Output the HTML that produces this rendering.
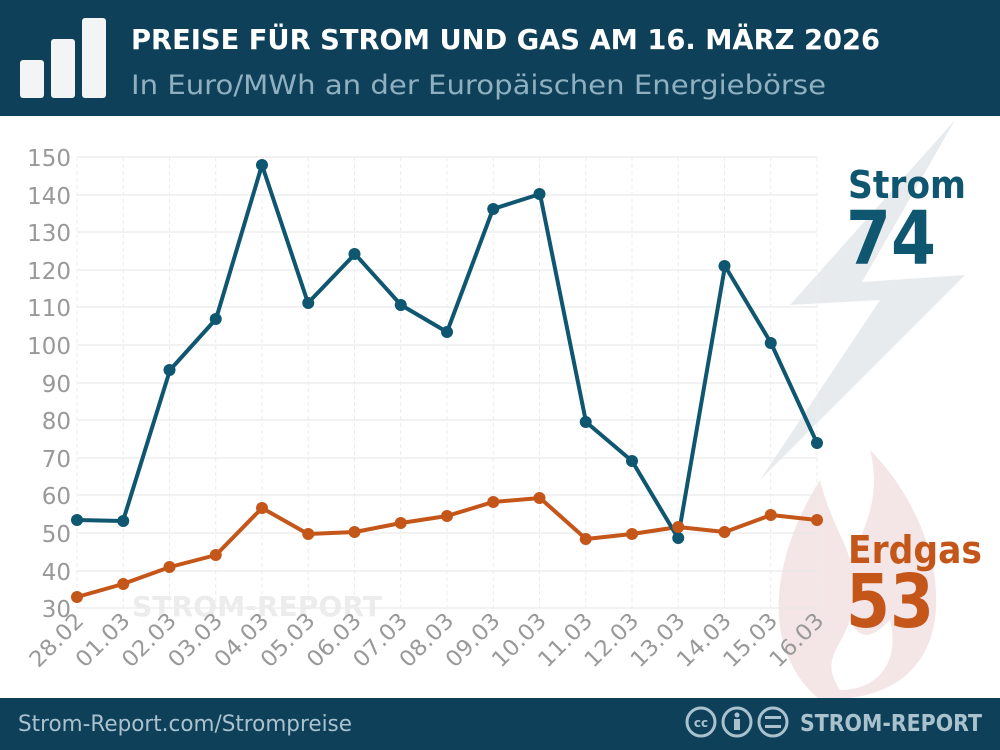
<!DOCTYPE html>
<html><head><meta charset="utf-8"><style>
body{margin:0;width:1000px;height:750px;overflow:hidden;background:#fff;font-family:"DejaVu Sans","Liberation Sans",sans-serif}
</style></head><body>
<svg width="1000" height="750" viewBox="0 0 1000 750" xmlns="http://www.w3.org/2000/svg" style="position:absolute;left:0;top:0">
<rect x="0" y="0" width="1000" height="116" fill="#0e4059"/>
<rect x="20" y="60" width="24" height="38" rx="3" fill="#f2f4f6"/>
<rect x="51" y="39" width="24" height="59" rx="3" fill="#f2f4f6"/>
<rect x="82" y="18" width="24" height="80" rx="3" fill="#f2f4f6"/>
<text x="131" y="49" font-size="28" font-weight="bold" fill="#fff" textLength="749" lengthAdjust="spacingAndGlyphs">PREISE FÜR STROM UND GAS AM 16. MÄRZ 2026</text>
<text x="131" y="94" font-size="27" fill="#8fb0c0" textLength="695" lengthAdjust="spacingAndGlyphs">In Euro/MWh an der Europäischen Energiebörse</text>
<polygon points="955,120 790,305 880,300 760,480 965,275 862,282" fill="#e8ebee"/>
<path d="M820,700 C760,650 770,560 820,480 C830,520 845,540 850,560 C870,520 880,490 870,450 C920,500 950,580 930,640 C915,680 880,700 820,700 Z M840,690 C880,690 900,660 890,620 C870,640 860,640 850,620 C840,650 820,660 840,690 Z" fill="#f4e6e7" fill-rule="evenodd"/>
<g stroke="#e6e6e6" stroke-width="1">
<line x1="77" y1="157" x2="817" y2="157"/><line x1="77" y1="195" x2="817" y2="195"/><line x1="77" y1="232" x2="817" y2="232"/><line x1="77" y1="270" x2="817" y2="270"/><line x1="77" y1="307" x2="817" y2="307"/><line x1="77" y1="345" x2="817" y2="345"/><line x1="77" y1="383" x2="817" y2="383"/><line x1="77" y1="420" x2="817" y2="420"/><line x1="77" y1="458" x2="817" y2="458"/><line x1="77" y1="495" x2="817" y2="495"/><line x1="77" y1="533" x2="817" y2="533"/><line x1="77" y1="571" x2="817" y2="571"/><line x1="77" y1="608" x2="817" y2="608"/>
</g>
<g stroke="#ececec" stroke-width="1" stroke-dasharray="4,3" id="vg"></g>
<text x="132" y="616" font-size="28" font-weight="bold" fill="#ececec" textLength="250" lengthAdjust="spacingAndGlyphs">STROM-REPORT</text>
<g font-size="23" fill="#999" text-anchor="end">
<text x="71" y="166">150</text><text x="71" y="204">140</text><text x="71" y="241">130</text><text x="71" y="279">120</text><text x="71" y="316">110</text><text x="71" y="354">100</text><text x="71" y="392">90</text><text x="71" y="429">80</text><text x="71" y="467">70</text><text x="71" y="504">60</text><text x="71" y="542">50</text><text x="71" y="580">40</text><text x="71" y="617">30</text>
</g>
<g id="xl" font-size="22" fill="#999" text-anchor="end"></g>
<polyline fill="none" stroke="#c4561a" stroke-width="4" stroke-linejoin="round" points="77,597 123,584 170,567 216,555 262,508 308,534 355,532 401,523 447,516 493,502 540,498 586,539 632,534 678,527 725,532 771,515 817,520"/>
<polyline fill="none" stroke="#0f5670" stroke-width="4" stroke-linejoin="round" points="77,520 123,521 170,370 216,319 262,165 308,303 355,254 401,305 447,332 493,209 540,194 586,422 632,461 678,538 725,266 771,343 817,443"/>
<g id="dots"></g>
<text x="848" y="198" font-size="38" font-weight="bold" fill="#0f5670" textLength="118" lengthAdjust="spacingAndGlyphs">Strom</text>
<text x="846" y="264" font-size="74" font-weight="bold" fill="#0f5670" textLength="90" lengthAdjust="spacingAndGlyphs">74</text>
<text x="848" y="563" font-size="38" font-weight="bold" fill="#c4561a" textLength="134" lengthAdjust="spacingAndGlyphs">Erdgas</text>
<text x="846" y="627" font-size="74" font-weight="bold" fill="#c4561a" textLength="88" lengthAdjust="spacingAndGlyphs">53</text>
<rect x="0" y="698" width="1000" height="52" fill="#0e4059"/>
<text x="18" y="731" font-size="22" fill="#a9c2ce" textLength="334" lengthAdjust="spacingAndGlyphs">Strom-Report.com/Strompreise</text>
<g fill="none" stroke="#a9c2ce" stroke-width="3"><circle cx="701" cy="722" r="14"/><circle cx="737" cy="722" r="14"/><circle cx="773" cy="722" r="14"/></g>
<text x="701" y="727" font-size="12" font-weight="bold" fill="#a9c2ce" text-anchor="middle">cc</text>
<circle cx="737" cy="715" r="2.5" fill="#a9c2ce"/><rect x="734" y="719" width="6" height="11" fill="#a9c2ce"/>
<rect x="765" y="716" width="16" height="3" fill="#a9c2ce"/><rect x="765" y="725" width="16" height="3" fill="#a9c2ce"/>
<text x="800" y="731" font-size="23" font-weight="bold" fill="#a9c2ce" textLength="182" lengthAdjust="spacingAndGlyphs">STROM-REPORT</text>
</svg>
<script>
var ns="http://www.w3.org/2000/svg";
var labels=["28.02","01.03","02.03","03.03","04.03","05.03","06.03","07.03","08.03","09.03","10.03","11.03","12.03","13.03","14.03","15.03","16.03"];
var s=[520,521,370,319,165,303,254,305,332,209,194,422,461,538,266,343,443];
var g=[597,584,567,555,508,534,532,523,516,502,498,539,534,527,532,515,520];
var vg=document.getElementById('vg'),xl=document.getElementById('xl'),d=document.getElementById('dots');
for(var i=0;i<17;i++){var x=77+i*46.25;
var l=document.createElementNS(ns,'line');l.setAttribute('x1',x);l.setAttribute('x2',x);l.setAttribute('y1',157);l.setAttribute('y2',608);vg.appendChild(l);
var t=document.createElementNS(ns,'text');t.setAttribute('transform','translate('+(x+8)+',622) rotate(-45)');t.setAttribute('textLength','66');t.setAttribute('lengthAdjust','spacingAndGlyphs');t.textContent=labels[i];xl.appendChild(t);
[[s[i],'#0f5670'],[g[i],'#c4561a']].forEach(function(p){var c=document.createElementNS(ns,'circle');c.setAttribute('cx',x);c.setAttribute('cy',p[0]);c.setAttribute('r',6);c.setAttribute('fill',p[1]);d.appendChild(c);});}
</script>
</body></html>
